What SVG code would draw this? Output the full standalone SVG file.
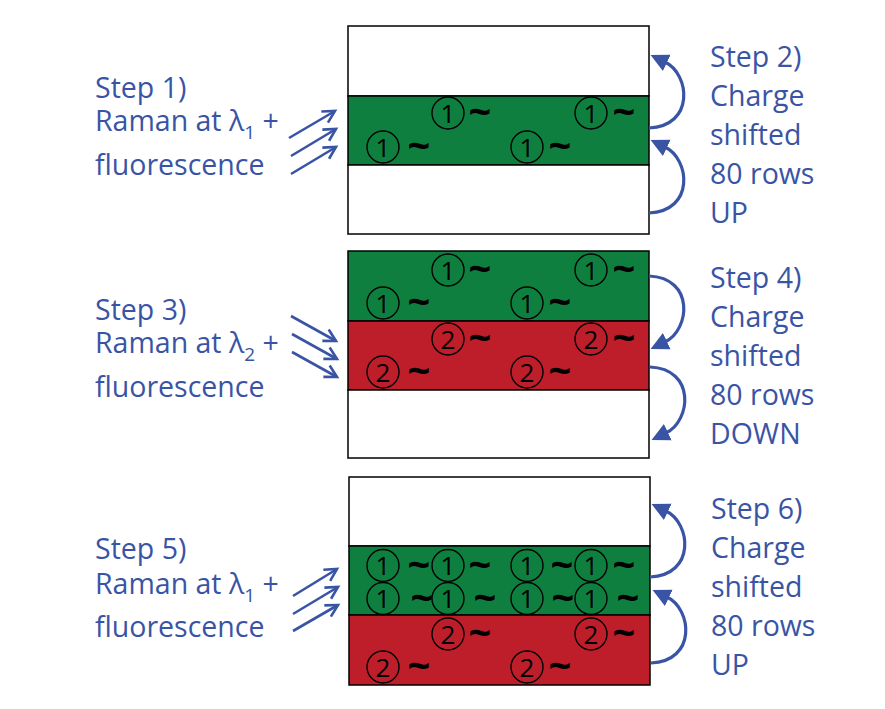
<svg xmlns="http://www.w3.org/2000/svg" width="885" height="709" viewBox="0 0 885 709">
<style>
.bw{fill:#fff;stroke:#000;stroke-width:1.5}
.bg{fill:#0F7F3F;stroke:#000;stroke-width:1.5}
.br{fill:#BE1E2A;stroke:#000;stroke-width:1.5}
.c{fill:none;stroke:#000;stroke-width:1.4}
.d{font-family:"Open Sans","Liberation Sans",sans-serif;font-size:26px;text-anchor:middle;fill:#000}
.t{font-family:"Open Sans","Liberation Sans",sans-serif;font-size:40px;font-weight:bold;text-anchor:middle;fill:#000}
.lbl{font-family:"Open Sans","Liberation Sans",sans-serif;font-size:28.5px;fill:#3A54A5}
.sub{font-size:19px}
.ar{fill:none;stroke:#3A54A5;stroke-width:2.6}
.cv{fill:none;stroke:#3A54A5;stroke-width:3.2}
</style>
<defs>
<marker id="open" markerUnits="userSpaceOnUse" markerWidth="16" markerHeight="16" viewBox="0 0 16 16" refX="13" refY="8" orient="auto">
<path d="M1,1.5 L13,8 L1,14.5" fill="none" stroke="#3A54A5" stroke-width="2.6" stroke-linejoin="miter"/>
</marker>
<marker id="head" markerUnits="userSpaceOnUse" markerWidth="20" markerHeight="20" viewBox="0 0 20 20" refX="2" refY="10" orient="auto">
<path d="M0,1 L18,10 L0,19 Z" fill="#3A54A5"/>
</marker>
</defs>

<g id="panel1">
<rect class="bw" x="348" y="26" width="301" height="70"/>
<rect class="bg" x="348" y="96" width="301" height="69"/>
<rect class="bw" x="348" y="165" width="301" height="69"/>
<circle class="c" cx="448" cy="113" r="16"/><text class="d" x="448" y="122.5">1</text><text class="t" x="480" y="126">~</text>
<circle class="c" cx="591" cy="113" r="16"/><text class="d" x="591" y="122.5">1</text><text class="t" x="624" y="126">~</text>
<circle class="c" cx="383" cy="147" r="16"/><text class="d" x="383" y="156.5">1</text><text class="t" x="419" y="160">~</text>
<circle class="c" cx="527" cy="147" r="16"/><text class="d" x="527" y="156.5">1</text><text class="t" x="560" y="160">~</text>
</g>

<g id="panel2">
<rect class="bg" x="348" y="251" width="301" height="70"/>
<rect class="br" x="348" y="321" width="301" height="69"/>
<rect class="bw" x="348" y="390" width="301" height="68"/>
<circle class="c" cx="448" cy="270" r="16"/><text class="d" x="448" y="279.5">1</text><text class="t" x="480" y="283">~</text>
<circle class="c" cx="591" cy="270" r="16"/><text class="d" x="591" y="279.5">1</text><text class="t" x="624" y="283">~</text>
<circle class="c" cx="383" cy="303" r="16"/><text class="d" x="383" y="312.5">1</text><text class="t" x="419" y="316">~</text>
<circle class="c" cx="527" cy="303" r="16"/><text class="d" x="527" y="312.5">1</text><text class="t" x="560" y="316">~</text>
<circle class="c" cx="448" cy="339" r="16"/><text class="d" x="448" y="348.5">2</text><text class="t" x="480" y="352">~</text>
<circle class="c" cx="591" cy="339" r="16"/><text class="d" x="591" y="348.5">2</text><text class="t" x="624" y="352">~</text>
<circle class="c" cx="383" cy="372" r="16"/><text class="d" x="383" y="381.5">2</text><text class="t" x="419" y="385">~</text>
<circle class="c" cx="527" cy="372" r="16"/><text class="d" x="527" y="381.5">2</text><text class="t" x="560" y="385">~</text>
</g>

<g id="panel3">
<rect class="bw" x="349" y="477" width="301" height="69"/>
<rect class="bg" x="349" y="546" width="301" height="69"/>
<rect class="br" x="349" y="615" width="301" height="70"/>
<circle class="c" cx="383" cy="565.5" r="16"/><text class="d" x="383" y="575">1</text><text class="t" x="419" y="578.5">~</text>
<circle class="c" cx="448" cy="565.5" r="16"/><text class="d" x="448" y="575">1</text><text class="t" x="480" y="578.5">~</text>
<circle class="c" cx="527" cy="565.5" r="16"/><text class="d" x="527" y="575">1</text><text class="t" x="562" y="578.5">~</text>
<circle class="c" cx="591" cy="565.5" r="16"/><text class="d" x="591" y="575">1</text><text class="t" x="624" y="578.5">~</text>
<circle class="c" cx="383" cy="598.5" r="16"/><text class="d" x="383" y="608">1</text><text class="t" x="422" y="611.5">~</text>
<circle class="c" cx="448" cy="598.5" r="16"/><text class="d" x="448" y="608">1</text><text class="t" x="485" y="611.5">~</text>
<circle class="c" cx="527" cy="598.5" r="16"/><text class="d" x="527" y="608">1</text><text class="t" x="563" y="611.5">~</text>
<circle class="c" cx="591" cy="598.5" r="16"/><text class="d" x="591" y="608">1</text><text class="t" x="628" y="611.5">~</text>
<circle class="c" cx="448" cy="634" r="16"/><text class="d" x="448" y="643.5">2</text><text class="t" x="480" y="647">~</text>
<circle class="c" cx="591" cy="634" r="16"/><text class="d" x="591" y="643.5">2</text><text class="t" x="624" y="647">~</text>
<circle class="c" cx="383" cy="667" r="16"/><text class="d" x="383" y="676.5">2</text><text class="t" x="419" y="680">~</text>
<circle class="c" cx="527" cy="667" r="16"/><text class="d" x="527" y="676.5">2</text><text class="t" x="560" y="680">~</text>
</g>

<g id="label-step1">
<text class="lbl" x="95" y="98">Step 1)</text>
<text class="lbl" x="95" y="131">Raman at λ<tspan class="sub" dy="8">1</tspan><tspan dy="-8"> +</tspan></text>
<text class="lbl" x="95" y="175">fluorescence</text>
</g>
<g id="label-step3">
<text class="lbl" x="95" y="319.5">Step 3)</text>
<text class="lbl" x="95" y="353">Raman at λ<tspan class="sub" dy="8">2</tspan><tspan dy="-8"> +</tspan></text>
<text class="lbl" x="95" y="396.5">fluorescence</text>
</g>
<g id="label-step5">
<text class="lbl" x="95" y="559">Step 5)</text>
<text class="lbl" x="95" y="594">Raman at λ<tspan class="sub" dy="8">1</tspan><tspan dy="-8"> +</tspan></text>
<text class="lbl" x="95" y="637">fluorescence</text>
</g>
<g id="label-step2">
<text class="lbl" x="710" y="67">Step 2)</text>
<text class="lbl" x="710" y="106">Charge</text>
<text class="lbl" x="710" y="145">shifted</text>
<text class="lbl" x="710" y="184">80 rows</text>
<text class="lbl" x="710" y="223">UP</text>
</g>
<g id="label-step4">
<text class="lbl" x="710" y="288">Step 4)</text>
<text class="lbl" x="710" y="327">Charge</text>
<text class="lbl" x="710" y="366">shifted</text>
<text class="lbl" x="710" y="405">80 rows</text>
<text class="lbl" x="710" y="444">DOWN</text>
</g>
<g id="label-step6">
<text class="lbl" x="711" y="519">Step 6)</text>
<text class="lbl" x="711" y="558">Charge</text>
<text class="lbl" x="711" y="597">shifted</text>
<text class="lbl" x="711" y="636">80 rows</text>
<text class="lbl" x="711" y="675">UP</text>
</g>

<g id="connectors">
<line class="ar" x1="289" y1="138" x2="335" y2="111" marker-end="url(#open)"/>
<line class="ar" x1="291" y1="156" x2="336" y2="129" marker-end="url(#open)"/>
<line class="ar" x1="291" y1="174" x2="336" y2="147" marker-end="url(#open)"/>
<line class="ar" x1="291" y1="316" x2="336" y2="341" marker-end="url(#open)"/>
<line class="ar" x1="292" y1="334" x2="337" y2="359" marker-end="url(#open)"/>
<line class="ar" x1="292" y1="352" x2="337" y2="377" marker-end="url(#open)"/>
<line class="ar" x1="293" y1="596" x2="337" y2="569" marker-end="url(#open)"/>
<line class="ar" x1="293" y1="614" x2="338" y2="587" marker-end="url(#open)"/>
<line class="ar" x1="293" y1="631" x2="338" y2="605" marker-end="url(#open)"/>

<path class="cv" d="M649,128 C695,126 690,74 665,62" marker-end="url(#head)"/>
<path class="cv" d="M649,213 C695,211 690,159 665,147" marker-end="url(#head)"/>
<path class="cv" d="M649,276 C695,278 690,330 665,342" marker-end="url(#head)"/>
<path class="cv" d="M650,367 C696,369 691,421 666,433" marker-end="url(#head)"/>
<path class="cv" d="M650,577 C696,575 691,523 666,511" marker-end="url(#head)"/>
<path class="cv" d="M651,663 C697,661 692,609 667,597" marker-end="url(#head)"/>
</g>
</svg>
